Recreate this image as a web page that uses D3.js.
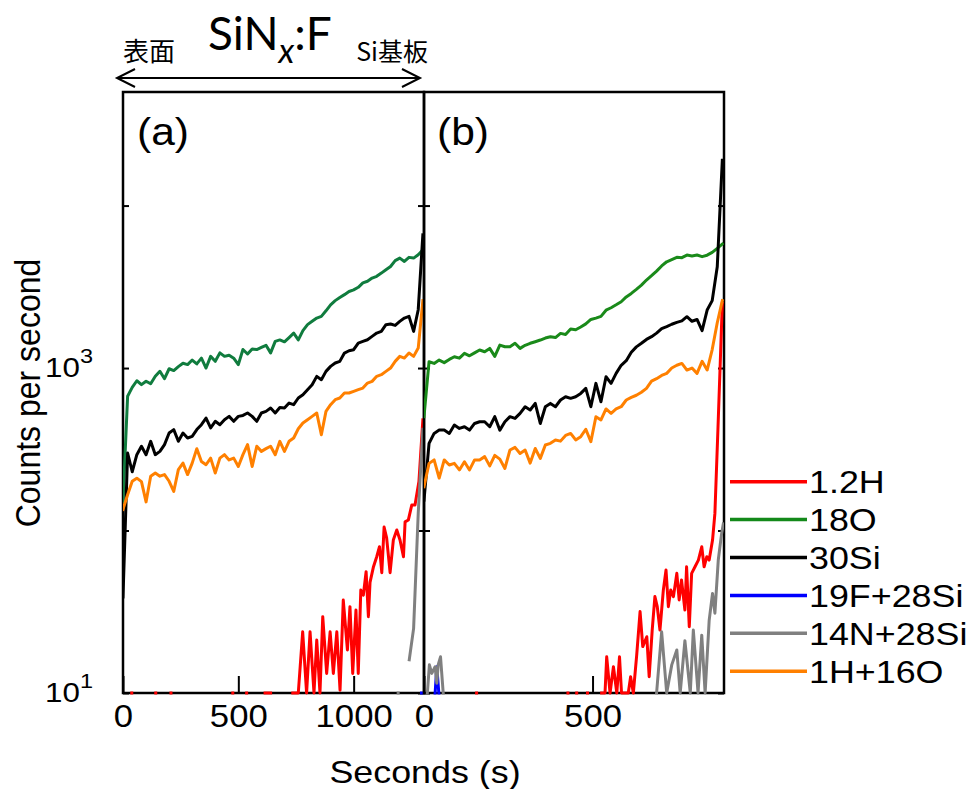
<!DOCTYPE html>
<html>
<head>
<meta charset="utf-8">
<script src="https://cdn.jsdelivr.net/npm/d3@7"></script>
<style>
  html, body { margin: 0; padding: 0; background: #fff; }
  svg { display: block; }
  text { font-family: "Liberation Sans", Arial, sans-serif; fill: #000; }
  .jp { font-family: "Noto Sans CJK JP", sans-serif; }
  .title { font-family: "Lato", "Open Sans", sans-serif; }
</style>
</head>
<body>
<svg id="chart" width="979" height="789"></svg>
<script>
// ---- sputter time (s) of each sample of the matrix signals ----
const timeA = d3.range(0, 1301, 20);   // panel (a)
const timeB = d3.range(0, 886, 15);    // panel (b)

// ---- legend / series ----
const seriesNames = ["1.2H", "18O", "30Si", "19F+28Si", "14N+28Si", "1H+16O"];
const legendColors = ["#ff0000", "#13891a", "#000000", "#0000ff", "#808080", "#ff8000"];

// ---- panel (a): counts per second (0 = no count recorded) ----
const o18A = [150,670,760,835,790,830,800,890,955,860, 990,965,1020,1070,1050,1120,1060,1150,1000,1180,
  1100,1240,1180,1200,1150,1050,1300,1220,1310,1300, 1340,1380,1240,1460,1490,1450,1540,1640,1490,1700,
  1850,1940,2030,2080,2250,2450,2600,2720,2830,2960, 3030,3140,3340,3420,3580,3670,3840,4030,4220,4580,
  4750,4530,4800,4750,4980,5340];
const si30A = [39,300,230,293,330,293,354,293,307,338, 398,418,354,398,371,380,418,448,492,428,
  470,448,481,504,470,504,511,529,504,470, 529,541,567,529,572,567,609,595,654,685,
  736,789,889,848,954,1024,1074,1099,1237,1278, 1297,1425,1459,1494,1566,1642,1682,1848,1865,1830,
  1937,2031,2080,1682,2286,6600];
const h1o16A = [135,166,201,210,200,150,216,226,216,221, 201,174,237,260,221,260,319,266,254,279,
  226,279,293,272,279,248,293,338,248,330, 307,319,330,293,354,307,354,371,423,459,
  481,504,529,389,541,595,639,654,702,702, 719,736,753,808,828,889,910,954,1000,1099,
  1180,1152,1237,1180,1328,2600];
// trace signals, with their own sample times
const h12TimeA = [0,38,90,142,175,208,340,476,506,536, 576,616,628,640,690,736,748,760,779,796,
  811,828,840,854,866,883,898,912,927,941, 955,973,984,996,1010,1020,1031,1042,1054,1064,
  1071,1086,1100,1112,1122,1132,1143,1158,1172,1187, 1201,1216,1223,1237,1252,1266,1283,1300];
const h12A = [0,10,0,10,0,10,0,10,0,10, 0,10,10,10,0,10,10,10,23.8,10,
  23.8,10,21.2,10,29.5,13.2,23.8,13.2,23.8,10.4, 37.3,18.4,34,13.2,32.4,13.2,43,40,55.8,29.5,
  48,59.9,69,79.5,55,105,90,55,87.4,100.7, 87.4,69,113,116,143.6,143.6,200,480];
const f19TimeA = [1280, 1294, 1300];
const f19si28A = [0, 10, 0];
const n14TimeA = [1170, 1193, 1215, 1241, 1260, 1280, 1300];
const n14si28A = [0, 10, 0, 16, 25, 128, 420];

// ---- panel (b): counts per second (0 = no count recorded) ----
const o18B = [502,1094,1068,1120,1080,1130,1174,1150,1231,1190, 1240,1291,1260,1321,1180,1385,1353,1353,1420,1321,
  1380,1420,1452,1487,1530,1559,1540,1634,1610,1740, 1720,1790,1870,1990,2030,2080,2270,2350,2450,2560,
  2740,2880,3050,3240,3480,3700,3950,4250,4510,4650, 4800,4780,4960,4900,4960,4850,4950,5150,5450,5800];
const si30B = [154,344,396,415,415,396,446,425,435,415, 456,467,467,435,502,415,467,502,490,526,
  578,552,606,456,578,606,578,636,666,651, 666,698,750,578,805,620,884,805,927,1040,
  1110,1250,1350,1420,1500,1560,1640,1750,1800,1860, 1910,1950,2070,1940,1990,1700,2275,2600,4200,19000];
const h1o16B = [186,259,272,210,272,253,259,236,265,236, 272,272,285,250,290,275,241,313,325,298,
  313,260,320,278,336,344,361,355,385,396, 361,378,420,352,502,479,560,526,560,578,
  636,660,680,710,750,830,860,900,927,1000, 1040,1068,972,1000,927,1100,972,1300,1900,2600];
const h12TimeB = [0,156,300,427,440,453,470,485,505,527, 537,542,552,562,572,580,586,606,613,621,
  631,641,649,661,668,677,685,692,700,710, 718,725,732,740,750,757,764,774,779,787,
  794,804,814,824,831,839,846,856,863,872, 885];
const h12B = [0,10,0,10,0,10,0,10,0,10, 10,16.7,10,14.5,10,16.7,10,10,12.6,10,
  17.1,31.7,19.3,22.2,12.6,24.4,39.2,34,24.4,43, 57.1,34,43,39.2,54.5,37.4,49.6,32.4,59.8,25.6,
  54.5,59.8,65.8,79.4,59.8,69,65.8,87.4,127.5,420, 2500];
const f19TimeB = [0, 33, 38, 44, 60];
const f19si28B = [0, 10, 14.5, 10, 0];
const n14TimeB = [10,16,23,33,38,42,49,57,70, 690,705,720,735,750,760,774,790,799,813,
  824,834,846,856,863,873,883,888];
const n14si28B = [10,14.9,13.2,14.5,11.5,14.9,16.7,10,0, 10,23.8,10,14.9,18.4,10,21,10,24.4,10,
  22.7,10,28,41,31,65.8,96,110];

// ---- axes ----
const xTicksA = [0, 500, 1000];
const xTicksB = [0, 500];
const yTicks = [10, 100, 1000, 10000];
const yLabelTicks = [{ value: 10, base: "10", exp: "1" }, { value: 1000, base: "10", exp: "3" }];

// ---- layout ----
const SX = 1.12;                      // horizontal glyph stretch
const plotTop = 92, plotBottom = 693;
const aLeft = 123, mid = 424, bRight = 724;

const svg = d3.select("#chart");
const y = d3.scaleLog().domain([10, 50000]).range([plotBottom, plotTop]);
const xA = d3.scaleLinear().domain([0, 1305]).range([aLeft, mid]);
const xB = d3.scaleLinear().domain([0, 890]).range([mid, bRight]);

const panels = [
  { id: "a", x: xA, left: aLeft, right: mid, ticks: xTicksA,
    series: [
      { time: h12TimeA, values: h12A, color: "#ff0000" },
      { time: timeA, values: o18A, color: "#107c3e" },
      { time: timeA, values: si30A, color: "#000000" },
      { time: f19TimeA, values: f19si28A, color: "#0000ff" },
      { time: n14TimeA, values: n14si28A, color: "#808080" },
      { time: timeA, values: h1o16A, color: "#ff8000" }
    ] },
  { id: "b", x: xB, left: mid, right: bRight, ticks: xTicksB,
    series: [
      { time: h12TimeB, values: h12B, color: "#ff0000" },
      { time: timeB, values: o18B, color: "#1a8a1a" },
      { time: timeB, values: si30B, color: "#000000" },
      { time: f19TimeB, values: f19si28B, color: "#0000ff" },
      { time: n14TimeB, values: n14si28B, color: "#808080" },
      { time: timeB, values: h1o16B, color: "#ff8000" }
    ] }
];

const defs = svg.append("defs");

panels.forEach(p => {
  // frame
  svg.append("rect")
    .attr("x", p.left).attr("y", plotTop)
    .attr("width", p.right - p.left).attr("height", plotBottom - plotTop)
    .attr("fill", "none").attr("stroke", "#000").attr("stroke-width", 2.5);

  // y ticks, inward on both sides
  const yl = svg.append("g").attr("transform", `translate(${p.left},0)`)
    .call(d3.axisLeft(y).tickValues(yTicks).tickSize(-6).tickFormat(() => ""));
  const yr = svg.append("g").attr("transform", `translate(${p.right},0)`)
    .call(d3.axisRight(y).tickValues(yTicks).tickSize(-6).tickFormat(() => ""));
  [yl, yr].forEach(g => {
    g.select(".domain").remove();
    g.selectAll(".tick line").attr("stroke", "#000").attr("stroke-width", 2);
  });

  // x ticks and labels
  const xg = svg.append("g").attr("transform", `translate(0,${plotBottom})`)
    .call(d3.axisBottom(p.x).tickValues(p.ticks).tickSize(-17).tickPadding(12).tickFormat(d3.format("d")));
  xg.attr("font-size", null).attr("font-family", null);
  xg.select(".domain").remove();
  xg.selectAll(".tick line").attr("stroke", "#000").attr("stroke-width", 2);
  xg.selectAll(".tick text").attr("font-size", 31).attr("fill", "#000")
    .attr("transform", `scale(${SX},1)`);

  // clip
  defs.append("clipPath").attr("id", "clip-" + p.id)
    .append("rect").attr("x", p.left).attr("y", plotTop - 2)
    .attr("width", p.right - p.left).attr("height", plotBottom - plotTop + 6);

  const line = d3.line()
    .defined(d => d.v > 0)
    .x(d => p.x(d.t))
    .y(d => y(d.v));

  const g = svg.append("g").attr("clip-path", `url(#clip-${p.id})`);
  p.series.forEach(s => {
    const pts = s.values.map((v, k) => ({ t: s.time[k], v }));
    g.append("path")
      .attr("d", line(pts))
      .attr("fill", "none")
      .attr("stroke", s.color)
      .attr("stroke-width", 3)
      .attr("stroke-linejoin", "round")
      .attr("stroke-linecap", "square");
  });
});

// panel captions
[["(a)", 137], ["(b)", 437]].forEach(([s, x]) => {
  svg.append("text").attr("transform", `translate(${x},145) scale(${SX},1)`)
    .attr("font-size", 38).text(s);
});

// y tick labels with exponents
yLabelTicks.forEach(d => {
  const t = svg.append("text")
    .attr("transform", `translate(93,${y(d.value) + 9}) scale(${SX},1)`)
    .attr("text-anchor", "end").attr("font-size", 28);
  t.append("tspan").text(d.base);
  t.append("tspan").attr("dy", -14).attr("font-size", 21).text(d.exp);
});

// axis titles
svg.append("text")
  .attr("transform", `translate(40,393) scale(${SX},1) rotate(-90)`)
  .attr("text-anchor", "middle").attr("font-size", 32).text("Counts per second");
svg.append("text")
  .attr("transform", `translate(425,783) scale(${SX},1)`)
  .attr("text-anchor", "middle").attr("font-size", 32).text("Seconds (s)");

// legend
const legend = svg.append("g");
seriesNames.forEach((name, i) => {
  const yy = 481.7 + i * 37.9;
  legend.append("line").attr("x1", 730).attr("x2", 807).attr("y1", yy).attr("y2", yy)
    .attr("stroke", legendColors[i]).attr("stroke-width", 3.5);
  legend.append("text").attr("transform", `translate(809,${yy + 11.5}) scale(${SX},1)`)
    .attr("font-size", 32).text(name);
});

// header: sample name and depth direction
const title = svg.append("text").attr("class", "title").attr("x", 208).attr("y", 50).attr("font-size", 46);
title.append("tspan").text("SiN");
title.append("tspan").attr("font-style", "italic").attr("font-size", 34).attr("dy", 13).text("x");
title.append("tspan").attr("dy", -13).text(":F");

svg.append("text").attr("class", "jp").attr("x", 123).attr("y", 61).attr("font-size", 26).text("表面");
svg.append("text").attr("class", "jp").attr("x", 428).attr("y", 61).attr("text-anchor", "end")
  .attr("font-size", 25).text("Si基板");

const arrow = d3.path();
arrow.moveTo(117, 78); arrow.lineTo(420, 78);
arrow.moveTo(135, 69); arrow.lineTo(117, 78); arrow.lineTo(135, 87);
arrow.moveTo(402, 69); arrow.lineTo(420, 78); arrow.lineTo(402, 87);
svg.append("path").attr("d", arrow.toString()).attr("fill", "none")
  .attr("stroke", "#000").attr("stroke-width", 2);
</script>
</body>
</html>
